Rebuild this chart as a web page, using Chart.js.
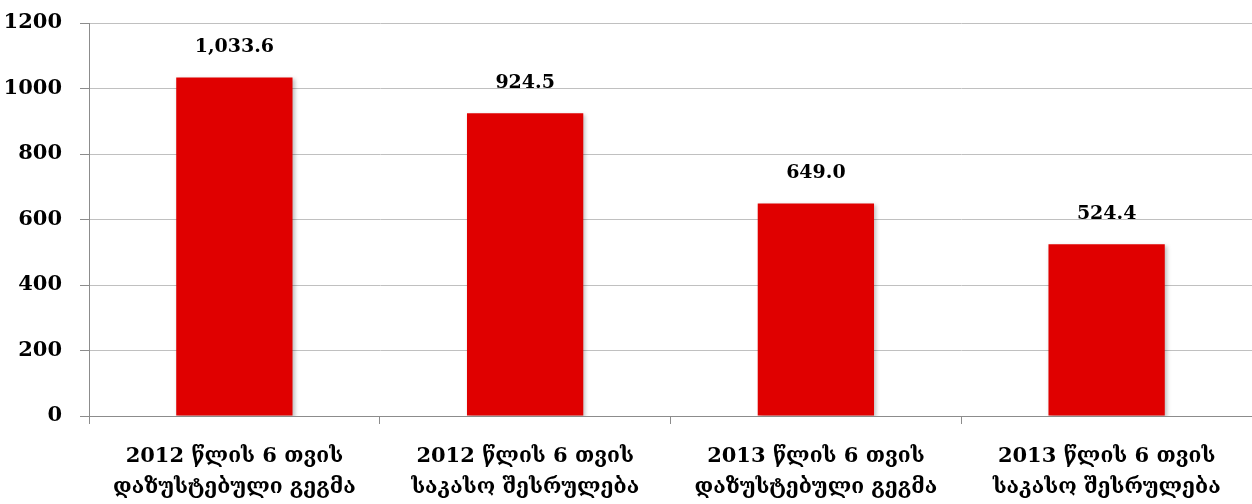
<!DOCTYPE html>
<html>
<head>
<meta charset="utf-8">
<script src="https://cdn.jsdelivr.net/npm/chart.js@4/dist/chart.umd.min.js"></script>
<style>
  html, body { margin: 0; padding: 0; background: #ffffff; }
  #wrap { width: 1252px; height: 504px; position: relative; }
</style>
</head>
<body>
<div id="wrap"><canvas id="chart"></canvas></div>
<script>
// Budget figures: planned vs. executed, first six months of 2012 and 2013
const categories = [
  ['2012 წლის 6 თვის', 'დაზუსტებული გეგმა'],
  ['2012 წლის 6 თვის', 'საკასო შესრულება'],
  ['2013 წლის 6 თვის', 'დაზუსტებული გეგმა'],
  ['2013 წლის 6 თვის', 'საკასო შესრულება']
];
const values = [1033.6, 924.5, 649.0, 524.4];
const yTicks = [0, 200, 400, 600, 800, 1000, 1200];

const FONT = "'DejaVu Serif', 'Liberation Serif', serif";

// Soft drop shadow under the bars
const barShadow = {
  id: 'barShadow',
  beforeDatasetsDraw(chart) {
    const ctx = chart.ctx;
    ctx.save();
    ctx.shadowColor = 'rgba(0,0,0,0.25)';
    ctx.shadowBlur = 4;
    ctx.shadowOffsetX = 2;
    ctx.shadowOffsetY = 2;
  },
  afterDatasetsDraw(chart) {
    chart.ctx.restore();
  }
};

// Writes each bar's value above it
const valueLabels = {
  id: 'valueLabels',
  afterDatasetsDraw(chart) {
    const ctx = chart.ctx;
    const meta = chart.getDatasetMeta(0);
    ctx.save();
    ctx.font = 'bold 19px ' + FONT;
    ctx.fillStyle = '#000000';
    ctx.textAlign = 'center';
    ctx.textBaseline = 'middle';
    meta.data.forEach((bar, i) => {
      const txt = values[i].toLocaleString('en-US', { minimumFractionDigits: 1, maximumFractionDigits: 1 });
      ctx.fillText(txt, bar.x, bar.y - 30);
    });
    ctx.restore();
  }
};

new Chart(document.getElementById('chart'), {
  type: 'bar',
  data: {
    labels: categories,
    datasets: [{
      data: values,
      backgroundColor: '#e00000',
      borderWidth: 0,
      categoryPercentage: 1.0,
      barPercentage: 0.4
    }]
  },
  options: {
    responsive: true,
    maintainAspectRatio: false,
    animation: false,
    layout: { padding: { top: 23, right: 0, left: 0, bottom: 0 } },
    plugins: { legend: { display: false }, tooltip: { enabled: false } },
    scales: {
      x: {
        afterFit(axis) { axis.height = 88; axis.paddingLeft = 0; axis.paddingRight = 0; },
        grid: {
          display: true,
          drawOnChartArea: false,
          drawTicks: true,
          tickLength: 8,
          color: '#8c8c8c',
          offset: true
        },
        border: { display: true, color: '#8c8c8c', width: 1 },
        ticks: {
          color: '#000000',
          font: { family: FONT, size: 21, weight: 'bold', lineHeight: 1.48 },
          padding: 17,
          maxRotation: 0,
          autoSkip: false
        }
      },
      y: {
        min: 0,
        max: 1200,
        afterBuildTicks(axis) { axis.ticks = yTicks.map(v => ({ value: v })); },
        afterFit(axis) { axis.width = 89; axis.paddingTop = 0; axis.paddingBottom = 0; },
        grid: {
          color: '#c0c0c0',
          tickColor: '#8c8c8c',
          tickLength: 9,
          lineWidth: 1
        },
        border: { display: true, color: '#8c8c8c', width: 1 },
        ticks: {
          color: '#000000',
          font: { family: FONT, size: 21, weight: 'bold' },
          padding: 18,
          callback: v => String(v)
        }
      }
    }
  },
  plugins: [barShadow, valueLabels]
});
</script>
</body>
</html>
